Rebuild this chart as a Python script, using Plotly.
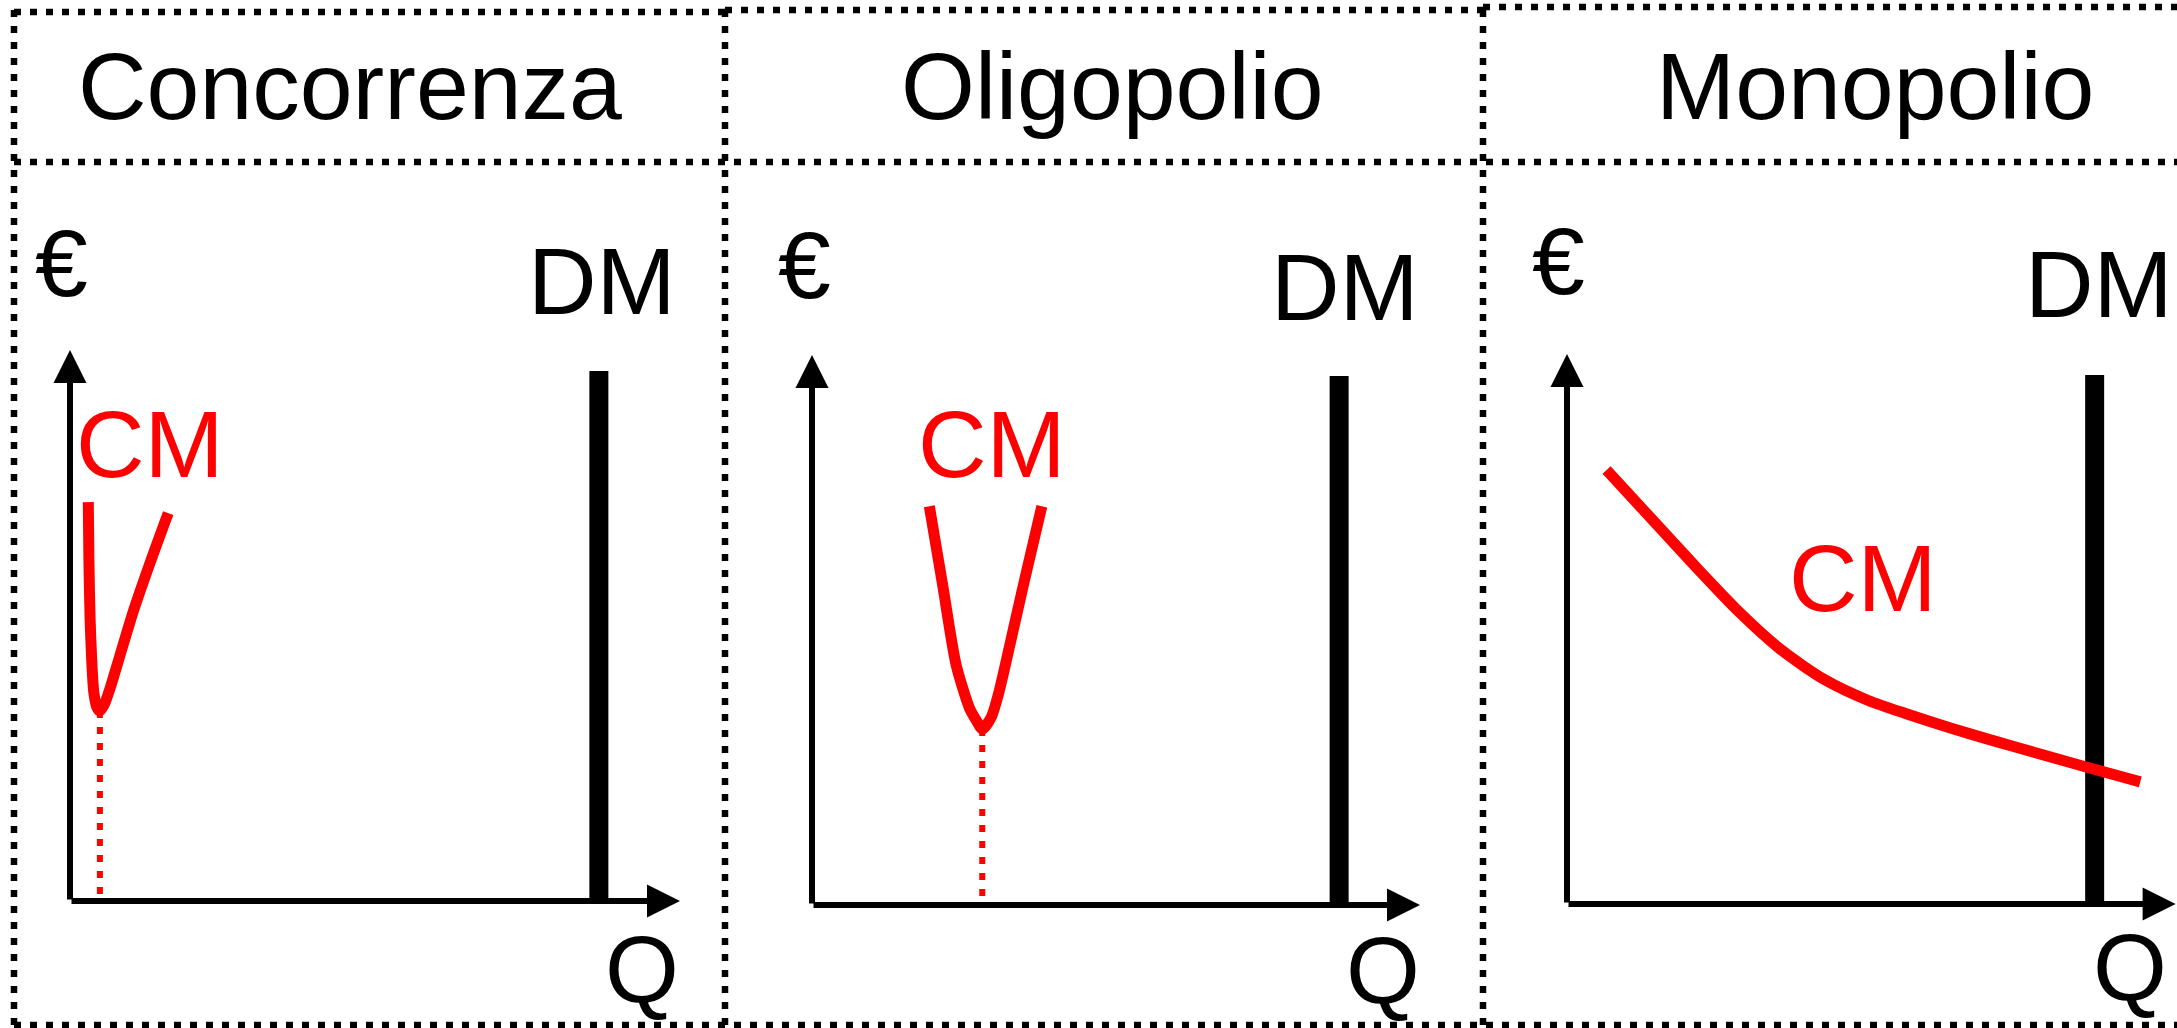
import plotly.graph_objects as go

W, H = 2177, 1028

# ---------------- data ----------------
panel_titles = ["Concorrenza", "Oligopolio", "Monopolio"]
y_label = "€"
x_label = "Q"
dm_label = "DM"
cm_label = "CM"

# Concorrenza: average cost curve (Q, €)
conc_q = [0.30, 0.31, 0.33, 0.36, 0.39, 0.44, 0.49, 0.56, 0.66, 0.82, 1.03, 1.31, 1.61]
conc_cm = [7.24, 6.19, 5.10, 4.28, 3.79, 3.52, 3.45, 3.56, 3.87, 4.46, 5.23, 6.13, 7.04]
conc_min = (0.49, 3.45)

# Oligopolio
olig_q = [1.93, 2.15, 2.37, 2.59, 2.70, 2.80, 2.95, 3.07, 3.255, 3.49, 3.78]
olig_cm = [7.25, 5.81, 4.37, 3.58, 3.36, 3.20, 3.42, 3.85, 4.73, 5.88, 7.25]
olig_min = (2.80, 3.20)

# Monopolio
mono_q = [0.65, 1.40, 2.10, 2.81, 3.52, 4.23, 4.95, 5.60, 6.30, 7.00, 7.70, 8.50, 9.42]
mono_cm = [7.89, 6.99, 6.15, 5.33, 4.62, 4.08, 3.70, 3.45, 3.20, 2.97, 2.75, 2.50, 2.22]

# market demand (vertical bar) position and height, same in all panels
dm_q = [8.67, 8.67, 8.67]
dm_top = [9.62, 9.62, 9.62]

axis_max = 10

# ---------------- layout helpers ----------------
def px(x):
    return x / W

def py(y):
    return 1 - y / H

# plot areas in pixels: (left, right), (bottom, top)
dom_x = [(70, 680), (812, 1420), (1567, 2175.6)]
dom_y = [(901, 350), (905, 355), (904, 354)]

RED = "#FF0000"
FONT = "Liberation Sans, Arial, sans-serif"
FS = 95

fig = go.Figure()

curves = [(conc_q, conc_cm), (olig_q, olig_cm), (mono_q, mono_cm)]
mins = [conc_min, olig_min, None]

for i in range(3):
    xa = "x" if i == 0 else f"x{i+1}"
    ya = "y" if i == 0 else f"y{i+1}"
    # DM bar
    fig.add_trace(go.Scatter(x=[dm_q[i], dm_q[i]], y=[0, dm_top[i]], mode="lines",
                             line=dict(color="black", width=19), xaxis=xa, yaxis=ya,
                             hoverinfo="skip"))
    # dotted line from minimum
    if mins[i] is not None:
        fig.add_trace(go.Scatter(x=[mins[i][0], mins[i][0]], y=[mins[i][1], 0.1], mode="lines",
                                 line=dict(color=RED, width=6, dash="7px,9px"),
                                 xaxis=xa, yaxis=ya, hoverinfo="skip"))
    # CM curve
    q, c = curves[i]
    fig.add_trace(go.Scatter(x=q, y=c, mode="lines",
                             line=dict(color=RED, width=11, shape="spline", smoothing=0.7),
                             xaxis=xa, yaxis=ya, hoverinfo="skip"))

layout = dict(width=W, height=H, margin=dict(l=0, r=0, t=0, b=0),
              paper_bgcolor="white", plot_bgcolor="rgba(0,0,0,0)", showlegend=False)
for i in range(3):
    sx = "" if i == 0 else str(i + 1)
    layout[f"xaxis{sx}"] = dict(domain=[px(dom_x[i][0]), px(dom_x[i][1])], range=[0, axis_max],
                                visible=False, anchor=f"y{sx}", fixedrange=True)
    layout[f"yaxis{sx}"] = dict(domain=[py(dom_y[i][0]), py(dom_y[i][1])], range=[0, axis_max],
                                visible=False, anchor=f"x{sx}", fixedrange=True)
fig.update_layout(**layout)

annotations = []
# axes arrows
for i in range(3):
    sx = "" if i == 0 else str(i + 1)
    for (tx, ty) in [(axis_max, 0), (0, axis_max)]:
        annotations.append(dict(x=tx, y=ty, ax=0, ay=0, xref=f"x{sx}", yref=f"y{sx}",
                                axref=f"x{sx}", ayref=f"y{sx}", text="", showarrow=True,
                                arrowhead=2, arrowsize=1.1, arrowwidth=6, arrowcolor="black",
                                standoff=0, font=dict(size=1)))

def label(text, x, y, color="black"):
    annotations.append(dict(x=px(x), y=py(y), xref="paper", yref="paper", text=text,
                            showarrow=False, xanchor="center", yanchor="middle",
                            font=dict(family=FONT, size=FS, color=color)))

title_x = [350, 1112, 1875]
for t, x in zip(panel_titles, title_x):
    label(t, x, 86)

euro_pos = [(61, 263), (804, 265), (1558, 261)]
dm_pos = [(602, 281), (1345, 287), (2099, 284)]
q_pos = [(642, 969), (1383, 970), (2130, 967)]
cm_pos = [(150, 444), (992, 444), (1863, 578)]
for i in range(3):
    label(y_label, *euro_pos[i])
    label(dm_label, *dm_pos[i])
    label(x_label, *q_pos[i])
    label(cm_label, *cm_pos[i], color=RED)

fig.update_layout(annotations=annotations)

# dotted frame
frame = dict(color="black", width=6.5, dash="7px,9px")
shapes = []
tops = [(14, 725, 12), (725, 1483, 10), (1483, W, 7)]
for x0, x1, y in tops:
    shapes.append(dict(type="line", xref="paper", yref="paper", x0=px(x0), x1=px(x1),
                       y0=py(y), y1=py(y), line=frame))
for y in (162, 1025):
    shapes.append(dict(type="line", xref="paper", yref="paper", x0=px(14), x1=px(W),
                       y0=py(y), y1=py(y), line=frame))
for x in (14, 725, 1483):
    shapes.append(dict(type="line", xref="paper", yref="paper", x0=px(x), x1=px(x),
                       y0=py(10), y1=py(1025), line=frame))
fig.update_layout(shapes=shapes)

fig.write_html("out.html", config={"displayModeBar": False},
               post_script="document.body.style.margin='0';document.body.style.overflow='hidden';")
